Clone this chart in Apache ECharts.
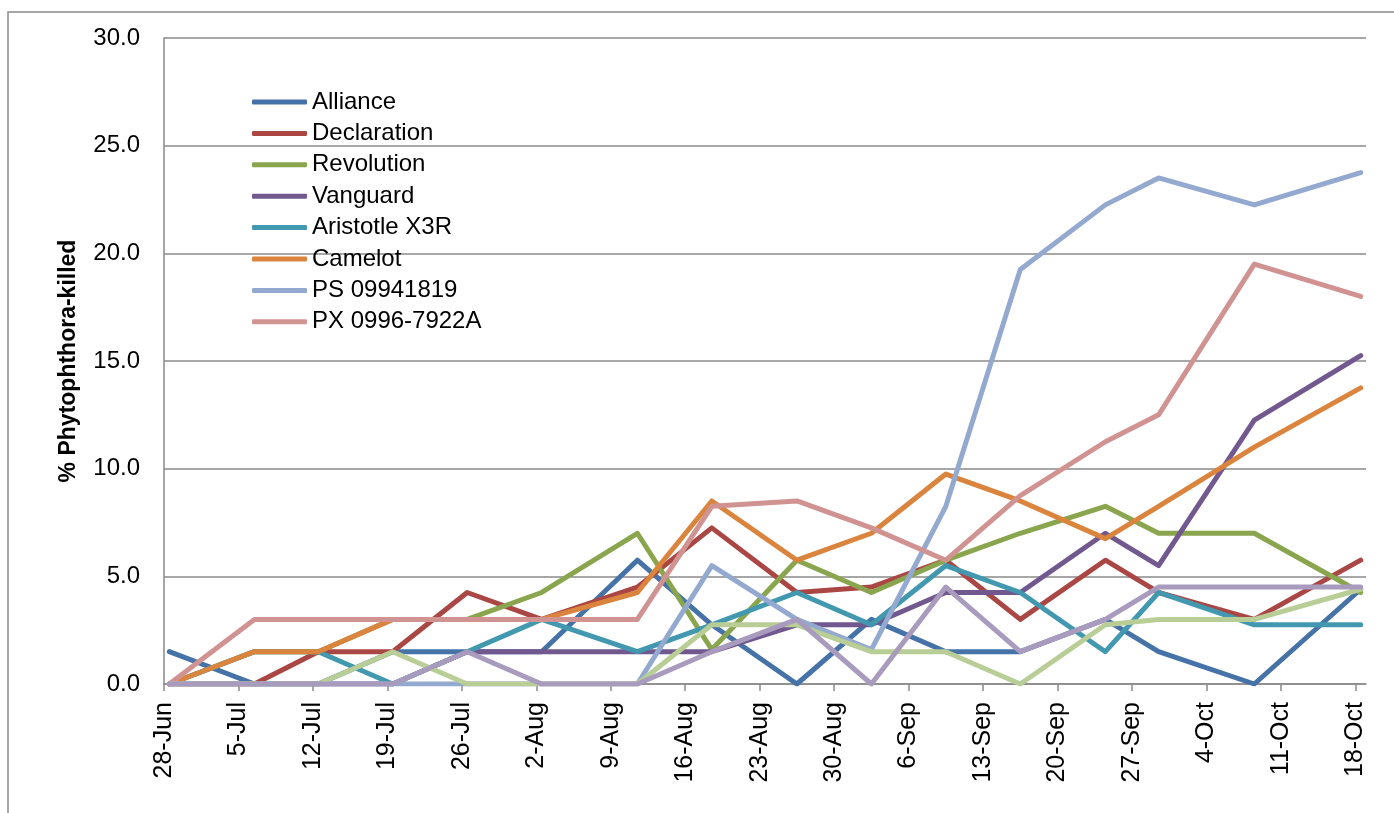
<!DOCTYPE html>
<html>
<head>
<meta charset="utf-8">
<script src="https://cdn.jsdelivr.net/npm/echarts@6/dist/echarts.min.js"></script>
<style>
html,body{margin:0;padding:0;background:#fff;}
#chart{width:1394px;height:813px;}
</style>
</head>
<body>
<div id="chart"></div>
<script>
// Tick labels (weekly, starting 28-Jun)
const tickLabels = ['28-Jun','5-Jul','12-Jul','19-Jul','26-Jul','2-Aug','9-Aug','16-Aug','23-Aug','30-Aug','6-Sep','13-Sep','20-Sep','27-Sep','4-Oct','11-Oct','18-Oct'];
// Sampling dates, as days after 28-Jun
const sampleDays = [0, 8, 14, 21, 28, 35, 44, 51, 59, 66, 73, 80, 88, 93, 102, 112];

const alliance    = [1.5, 0, 0, 1.5, 1.5, 1.5, 5.75, 2.75, 0, 3.0, 1.5, 1.5, 3.0, 1.5, 0, 4.4];
const declaration = [0, 0, 1.5, 1.5, 4.25, 3.0, 4.5, 7.25, 4.25, 4.5, 5.75, 3.0, 5.75, 4.25, 3.0, 5.75];
const revolution  = [0, 1.5, 1.5, 3.0, 3.0, 4.25, 7.0, 1.6, 5.75, 4.25, 5.75, 7.0, 8.25, 7.0, 7.0, 4.25];
const vanguard    = [0, 0, 0, 0, 1.5, 1.5, 1.5, 1.5, 2.75, 2.75, 4.25, 4.25, 7.0, 5.5, 12.25, 15.25];
const aristotle   = [0, 1.5, 1.5, 0, 1.5, 3.0, 1.5, 2.75, 4.25, 2.75, 5.5, 4.25, 1.5, 4.25, 2.75, 2.75];
const camelot     = [0, 1.5, 1.5, 3.0, 3.0, 3.0, 4.25, 8.5, 5.75, 7.0, 9.75, 8.5, 6.75, 8.25, 11.0, 13.75];
const ps09941819  = [0, 0, 0, 0, 0, 0, 0, 5.5, 3.0, 1.6, 8.25, 19.25, 22.25, 23.5, 22.25, 23.75];
const px0996      = [0, 3.0, 3.0, 3.0, 3.0, 3.0, 3.0, 8.25, 8.5, 7.25, 5.75, 8.75, 11.25, 12.5, 19.5, 18.0];
const series9     = [0, 0, 0, 1.5, 0, 0, 0, 2.75, 2.75, 1.5, 1.5, 0, 2.75, 3.0, 3.0, 4.4];
const series10    = [0, 0, 0, 0, 1.5, 0, 0, 1.5, 3.0, 0, 4.5, 1.5, 3.0, 4.5, 4.5, 4.5];

const seriesNames = ['Alliance','Declaration','Revolution','Vanguard','Aristotle X3R','Camelot','PS 09941819','PX 0996-7922A','Series9','Series10'];
const legendNames = seriesNames.slice(0, 8);
const seriesValues = [alliance, declaration, revolution, vanguard, aristotle, camelot, ps09941819, px0996, series9, series10];
const colors = ['#4572A7','#AA4643','#89A54E','#71588F','#4198AF','#DB843D','#93A9CF','#D19392','#B9CD96','#A99BBD'];

const FONT = 'Liberation Sans';
const tickValues = tickLabels.map((_, i) => i * 7);

const chart = echarts.init(document.getElementById('chart'), null, {renderer: 'canvas'});
const option = {
  animation: false,
  backgroundColor: '#ffffff',
  color: colors,
  graphic: [{
    type: 'rect',
    shape: {x: 8, y: 12, width: 1500, height: 1000},
    style: {fill: 'none', stroke: '#8a8a8a', lineWidth: 1.5},
    silent: true
  }],
  grid: {left: 164, top: 38, right: 28, bottom: 129, containLabel: false},
  legend: {
    orient: 'vertical',
    left: 252,
    top: 90,
    padding: 0,
    itemWidth: 55,
    itemHeight: 5,
    itemGap: 7.4,
    icon: 'roundRect',
    data: legendNames,
    textStyle: {fontFamily: FONT, fontSize: 24, lineHeight: 24, color: '#000'}
  },
  xAxis: {
    type: 'value',
    min: 0,
    max: 113,
    interval: 7,
    axisLine: {show: true, lineStyle: {color: '#8a8a8a', width: 1.5}},
    axisTick: {show: true, length: 7, customValues: tickValues, lineStyle: {color: '#8a8a8a', width: 1.5}},
    splitLine: {show: false},
    axisLabel: {
      customValues: tickValues,
      rotate: 90,
      margin: 18,
      fontFamily: FONT,
      fontSize: 25,
      color: '#000',
      formatter: v => tickLabels[Math.round(v / 7)] || ''
    }
  },
  yAxis: {
    type: 'value',
    min: 0,
    max: 30,
    interval: 5,
    name: '% Phytophthora-killed',
    nameLocation: 'middle',
    nameGap: 84,
    nameTextStyle: {fontFamily: FONT, fontSize: 23, fontWeight: 'bold', color: '#000'},
    axisLine: {show: true, lineStyle: {color: '#8a8a8a', width: 1.5}},
    axisTick: {show: false},
    splitLine: {show: true, lineStyle: {color: '#8a8a8a', width: 1.5}},
    axisLabel: {
      margin: 24,
      fontFamily: FONT,
      fontSize: 24,
      color: '#000',
      formatter: v => v.toFixed(1)
    }
  },
  series: seriesNames.map((name, i) => ({
    name: name,
    type: 'line',
    symbol: 'none',
    data: sampleDays.map((d, j) => [d + 0.5, seriesValues[i][j]]),
    lineStyle: {width: 5, color: colors[i], cap: 'round', join: 'round'},
    itemStyle: {color: colors[i]},
    emphasis: {disabled: true}
  }))
};
chart.setOption(option);
</script>
</body>
</html>
